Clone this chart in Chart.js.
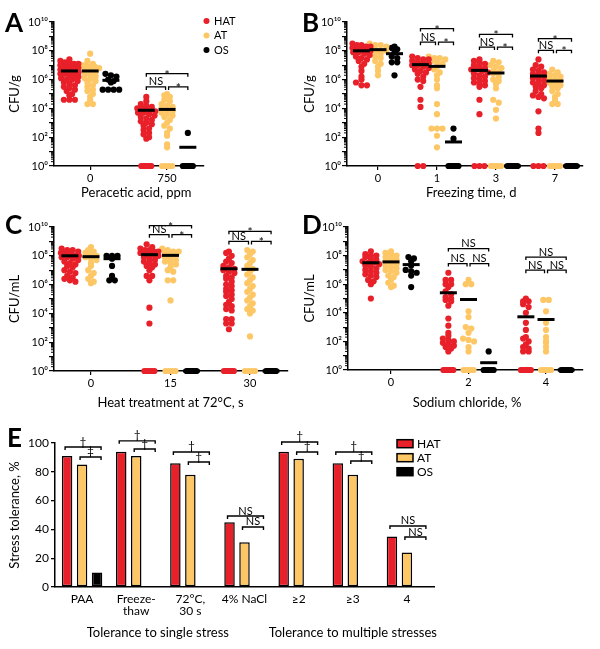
<!DOCTYPE html>
<html lang="en">
<head>
<meta charset="UTF-8">
<title>Stress tolerance of isolates</title>
<script src="https://cdn.jsdelivr.net/npm/chart.js"></script>
<style>
    body { margin: 0; background: #fff; }
    #wrap { position: relative; width: 600px; height: 649px; overflow: hidden; }
    canvas { position: absolute; }
    .tag { position: absolute; font: bold 26px Lato, sans-serif; line-height: 26px; color: #000; }
</style>
</head>
<body>
<div id="wrap">
    <canvas id="chartA" width="300" height="200" style="left:0;top:0"></canvas>
    <canvas id="chartB" width="300" height="200" style="left:300px;top:0"></canvas>
    <canvas id="chartC" width="300" height="210" style="left:0;top:200px"></canvas>
    <canvas id="chartD" width="300" height="210" style="left:300px;top:200px"></canvas>
    <canvas id="chartE" width="600" height="249" style="left:0;top:400px"></canvas>
    <div class="tag" style="left:5px;top:9px">A</div>
    <div class="tag" style="left:302px;top:9px">B</div>
    <div class="tag" style="left:5px;top:211px">C</div>
    <div class="tag" style="left:302px;top:211px">D</div>
    <div class="tag" style="left:7px;top:424px">E</div>
</div>

<script>
// all dot-plot values are log10 counts (0 = 10^0 floor)

// A: peracetic acid
const paaDoses = ['0', '750'];
const paaHAT = [
    [7.4, 7.3, 7.2, 7.2, 7.1, 7.1, 7.0, 7.0, 7.0, 6.9, 6.9, 6.8, 6.8, 6.7, 6.7, 6.6, 6.6, 6.5, 6.5, 6.4,
     6.4, 6.3, 6.2, 6.2, 6.1, 6.0, 6.0, 5.9, 5.8, 5.7, 5.6, 5.5, 5.4, 5.3, 5.2, 5.0, 4.9, 4.6, 4.6, 4.6],
    [4.8, 4.5, 4.3, 4.2, 4.1, 4.0, 4.0, 3.9, 3.9, 3.8, 3.7, 3.7, 3.6, 3.5, 3.4, 3.3, 3.2, 3.1, 3.0, 2.9,
     2.8, 2.6, 2.5, 2.3, 2.2, 2.0, 1.9, 0, 0, 0, 0, 0, 0, 0, 0]
];
const paaAT = [
    [7.8, 7.3, 7.1, 7.0, 7.0, 6.9, 6.9, 6.8, 6.7, 6.6, 6.5, 6.4, 6.3, 6.2, 6.1, 6.0, 5.9, 5.8, 5.6, 5.5,
     5.3, 5.2, 5.0, 4.8, 4.6, 4.3, 4.3],
    [5.0, 4.9, 4.8, 4.6, 4.5, 4.3, 4.2, 4.1, 4.0, 3.9, 3.8, 3.7, 3.6, 3.5, 3.4, 3.2, 3.0, 2.8, 2.6, 2.3,
     2.1, 1.5, 1.3, 0, 0, 0, 0]
];
const paaOS = [
    [6.4, 6.3, 6.2, 6.0, 5.9, 5.8, 5.3, 5.3, 5.3, 5.3],
    [2.3, 0, 0, 0, 0, 0, 0, 0, 0]
];
const paaMedians = [[6.6, 6.6, 5.95], [3.87, 3.93, 1.3]];

// B: freezing
const freezeDays = ['0', '1', '3', '7'];
const freezeHAT = [
    [8.5, 8.4, 8.4, 8.3, 8.3, 8.2, 8.2, 8.1, 8.1, 8.0, 8.0, 7.9, 7.9, 7.8, 7.7, 7.6, 7.5, 7.4, 7.3, 7.1,
     6.9, 6.6, 6.2, 6.0, 5.8, 5.6, 5.6],
    [7.6, 7.5, 7.4, 7.4, 7.3, 7.2, 7.2, 7.1, 7.0, 7.0, 6.9, 6.8, 6.7, 6.6, 6.5, 6.4, 6.2, 6.0, 5.9, 5.5,
     4.6, 4.1, 0, 0],
    [7.4, 7.3, 7.2, 7.1, 7.0, 6.9, 6.8, 6.7, 6.7, 6.6, 6.5, 6.4, 6.3, 6.2, 6.1, 6.0, 5.9, 5.8, 5.7, 5.6,
     5.5, 4.6, 3.6, 0, 0, 0],
    [7.4, 7.0, 6.9, 6.7, 6.6, 6.5, 6.4, 6.3, 6.2, 6.1, 6.0, 5.9, 5.8, 5.7, 5.6, 5.5, 5.4, 5.2, 5.0, 4.9,
     4.8, 4.7, 3.8, 2.6, 2.3, 0, 0, 0]
];
const freezeAT = [
    [8.5, 8.4, 8.4, 8.3, 8.2, 8.1, 8.0, 8.0, 7.9, 7.8, 7.6, 7.5, 7.3, 7.1, 6.9, 6.6, 6.3],
    [7.6, 7.5, 7.5, 7.4, 7.3, 7.2, 7.1, 6.9, 6.7, 6.5, 6.3, 6.0, 5.6, 5.4, 4.3, 3.6, 2.6, 2.6, 2.6, 2.1, 1.3],
    [7.3, 7.2, 7.0, 6.9, 6.8, 6.6, 6.5, 6.4, 6.2, 6.0, 5.9, 5.7, 5.4, 4.6, 4.4, 3.9, 3.3, 0, 0, 0, 0, 0],
    [6.7, 6.5, 6.4, 6.3, 6.2, 6.1, 6.0, 5.9, 5.8, 5.7, 5.6, 5.5, 5.4, 5.2, 5.0, 4.8, 4.6, 4.3, 4.3,
     0, 0, 0, 0, 0]
];
const freezeOS = [
    [8.3, 8.2, 8.1, 7.9, 7.6, 7.5, 7.2, 7.2, 6.3],
    [2.6, 1.9, 0, 0, 0, 0, 0, 0, 0, 0],
    [0, 0, 0, 0, 0, 0, 0, 0],
    [0, 0, 0, 0, 0, 0, 0, 0]
];
const freezeMedians = [[8.0, 8.08, 7.8], [7.04, 6.92, 1.67], [6.64, 6.46, 0], [6.25, 5.9, 0]];

// C: heat at 72 C
const heatSeconds = ['0', '15', '30'];
const heatHAT = [
    [8.5, 8.4, 8.4, 8.3, 8.2, 8.2, 8.1, 8.1, 8.0, 8.0, 7.9, 7.9, 7.8, 7.7, 7.6, 7.5, 7.4, 7.3, 7.2, 7.0,
     6.9, 6.8, 6.6, 6.5, 6.4, 6.3, 6.2],
    [8.8, 8.6, 8.5, 8.4, 8.4, 8.3, 8.3, 8.2, 8.2, 8.1, 8.1, 8.0, 8.0, 7.9, 7.8, 7.7, 7.6, 7.5, 7.4, 7.3,
     7.2, 7.0, 6.6, 6.6, 6.3, 4.4, 3.3, 0, 0, 0, 0, 0],
    [8.3, 8.2, 8.0, 7.8, 7.6, 7.5, 7.3, 7.2, 7.1, 7.0, 6.9, 6.8, 6.6, 6.5, 6.4, 6.2, 6.0, 5.9, 5.7, 5.6,
     5.5, 5.3, 5.2, 5.0, 4.8, 4.6, 4.5, 4.3, 4.2, 3.6, 3.6, 3.3, 3.3, 2.9, 0, 0, 0, 0, 0, 0]
];
const heatAT = [
    [8.6, 8.4, 8.3, 8.2, 8.1, 8.0, 7.9, 7.8, 7.7, 7.5, 7.3, 7.0, 6.8, 6.6, 6.4, 6.2, 6.1],
    [8.5, 8.4, 8.3, 8.3, 8.2, 8.1, 8.0, 7.9, 7.8, 7.7, 7.6, 7.5, 7.4, 7.2, 7.0, 6.9, 6.3, 6.3, 4.9,
     0, 0, 0, 0],
    [8.4, 8.3, 8.1, 7.9, 7.7, 7.5, 7.3, 7.1, 6.9, 6.7, 6.5, 6.3, 6.1, 5.9, 5.7, 5.5, 5.3, 5.1, 4.9, 4.7,
     4.5, 4.3, 4.2, 4.0, 2.4, 0, 0, 0, 0]
];
const heatOS = [
    [8.0, 8.0, 8.0, 7.8, 7.3, 6.6, 6.3, 6.3],
    [0, 0, 0, 0, 0, 0, 0, 0, 0],
    [0, 0, 0, 0, 0, 0, 0, 0, 0]
];
const heatMedians = [[8.0, 7.94, 7.8], [8.08, 8.03, 0], [7.1, 7.06, 0]];

// D: sodium chloride
const saltPercent = ['0', '2', '4'];
const saltHAT = [
    [8.3, 8.1, 8.0, 8.0, 7.9, 7.8, 7.7, 7.6, 7.5, 7.5, 7.4, 7.3, 7.2, 7.1, 7.0, 6.9, 6.8, 6.7, 6.6, 6.5,
     6.3, 6.2, 6.0, 5.0],
    [6.8, 6.3, 6.3, 6.0, 6.0, 5.8, 5.5, 5.3, 5.1, 5.0, 4.9, 4.8, 4.5, 3.6, 3.1, 2.6, 2.4, 2.2, 2.1, 2.0,
     1.9, 1.8, 1.7, 1.6, 1.5, 1.3, 0, 0, 0, 0, 0, 0, 0],
    [5.0, 4.8, 4.8, 4.6, 4.4, 4.0, 3.3, 2.8, 2.3, 2.2, 2.0, 1.8, 1.6, 1.5, 1.3, 1.3, 0, 0, 0, 0, 0, 0, 0]
];
const saltAT = [
    [8.3, 8.2, 8.1, 8.0, 7.9, 7.8, 7.7, 7.6, 7.5, 7.4, 7.3, 7.2, 7.1, 7.0, 6.9, 6.8, 6.6, 6.5, 6.3, 6.1,
     5.9, 5.8],
    [6.3, 6.0, 6.0, 4.1, 3.7, 3.0, 2.9, 2.6, 2.2, 2.1, 2.0, 1.6, 1.3, 0, 0, 0, 0, 0],
    [4.9, 4.9, 4.1, 3.3, 2.8, 2.3, 2.0, 1.9, 1.6, 1.3, 0, 0, 0, 0, 0]
];
const saltOS = [
    [7.9, 7.8, 7.6, 7.3, 7.0, 6.9, 6.8, 6.6, 5.8],
    [1.3, 0, 0, 0, 0, 0, 0, 0],
    [0, 0, 0, 0, 0, 0, 0, 0]
];
const saltMedians = [[7.5, 7.56, 7.37], [5.4, 4.93, 0.51], [3.72, 3.53, 0]];

// E: % of isolates tolerating each stress
const stressLabels = [['PAA'], ['Freeze-', 'thaw'], ['72°C,', '30 s'], ['4% NaCl'], ['≥2'], ['≥3'], ['4']];
const toleranceHAT = [91, 94, 86, 45, 94, 86, 35];
const toleranceAT = [85, 91, 78, 31, 89, 78, 24];
const toleranceOS = [10, null, null, null, null, null, null];

const SERIES = [
    { label: 'HAT', color: '#E8202A' },
    { label: 'AT', color: '#FDC766' },
    { label: 'OS', color: '#000000' }
];

const FONT = 'Lato, "DejaVu Sans", sans-serif';
Chart.defaults.font.family = FONT;
Chart.defaults.color = '#000';
Chart.defaults.animation = false;

const SUP = '⁰¹²³⁴⁵⁶⁷⁸⁹';
function sup(n) {
    return String(n).split('').map(d => SUP[+d]).join('');
}

// spread points of one group sideways (simple beeswarm)
function swarm(vals, center, pxPerUnit) {
    const rows = {};
    vals.forEach(v => {
        const k = Math.round(v / 0.3);
        (rows[k] = rows[k] || []).push(v);
    });
    const pts = [];
    Object.values(rows).forEach(row => {
        const n = row.length;
        const maxW = row[0] === 0 ? 10 : 18;
        const step = n > 1 ? Math.min(5.5, maxW / (n - 1)) : 0;
        row.forEach((v, k) => pts.push({ x: center + (k - (n - 1) / 2) * step / pxPerUnit, y: v }));
    });
    return pts;
}

function drawBracket(ctx, x1, x2, py, label) {
    ctx.beginPath();
    ctx.moveTo(x1, py + 3);
    ctx.lineTo(x1, py);
    ctx.lineTo(x2, py);
    ctx.lineTo(x2, py + 3);
    ctx.stroke();
    ctx.font = (label === 'NS' ? '11px ' : '12px ') + FONT;
    ctx.textAlign = 'center';
    ctx.textBaseline = 'alphabetic';
    ctx.fillText(label, (x1 + x2) / 2, label === '*' ? py + 5 : py - 1.5);
}

const dotExtras = {
    id: 'dotExtras',
    afterDraw(chart, args, opts) {
        const ctx = chart.ctx;
        const xs = chart.scales.x, ys = chart.scales.y;
        ctx.save();
        ctx.strokeStyle = '#000';
        ctx.fillStyle = '#000';
        // minor log ticks
        ctx.lineWidth = 1;
        for (let d = 0; d < 10; d++) {
            for (let k = 2; k < 10; k++) {
                const py = ys.getPixelForValue(d + Math.log10(k));
                ctx.beginPath();
                ctx.moveTo(ys.right - 3, py);
                ctx.lineTo(ys.right, py);
                ctx.stroke();
            }
        }
        // significance brackets
        ctx.lineWidth = 1.3;
        opts.brackets.forEach(([ci, a, b, level, label]) => {
            let x1 = xs.getPixelForValue(ci + (a - 1) * opts.off);
            let x2 = xs.getPixelForValue(ci + (b - 1) * opts.off);
            if (b === 1) x2 -= 1.5;
            if (a === 1) x1 += 1.5;
            drawBracket(ctx, x1, x2, ys.getPixelForValue(level), label);
        });
        // x axis title
        ctx.font = '13px ' + FONT;
        ctx.textAlign = 'center';
        ctx.textBaseline = 'middle';
        ctx.fillText(opts.xTitle, xs.getPixelForValue(opts.titleAt), chart.height - 7.5);
        // legend
        if (opts.legend) {
            ctx.font = '11px ' + FONT;
            ctx.textAlign = 'left';
            SERIES.forEach((s, i) => {
                const ly = chart.chartArea.top - 1 + i * 14.5;
                ctx.fillStyle = s.color;
                ctx.beginPath();
                ctx.arc(chart.chartArea.right + 2.5, ly, 3, 0, Math.PI * 2);
                ctx.fill();
                ctx.fillStyle = '#000';
                ctx.fillText(s.label, chart.chartArea.right + 10, ly);
            });
        }
        ctx.restore();
    }
};

function dotPanel(id, p) {
    const pxPerUnit = (p.area.right - p.area.left) / (p.xMax - p.xMin);
    const medianPts = [];
    p.medians.forEach((m, ci) => m.forEach((v, si) => medianPts.push({ x: ci + (si - 1) * p.off, y: v })));
    const datasets = [{
        data: medianPts,
        pointStyle: 'line',
        pointRadius: 8.5,
        pointHoverRadius: 8.5,
        pointBorderWidth: 3,
        pointBorderColor: '#000',
        borderColor: '#000',
        clip: false
    }];
    p.series.forEach((groups, si) => {
        const pts = [];
        groups.forEach((vals, ci) => pts.push(...swarm(vals, ci + (si - 1) * p.off, pxPerUnit)));
        datasets.push({
            label: SERIES[si].label,
            data: pts,
            pointRadius: 3.1,
            pointHoverRadius: 3.1,
            pointBorderWidth: 0,
            backgroundColor: SERIES[si].color,
            borderColor: SERIES[si].color,
            clip: false
        });
    });
    const canvas = document.getElementById(id);
    const h = canvas.height;
    const w = canvas.width;
    return new Chart(canvas, {
        type: 'scatter',
        data: { datasets: datasets },
        options: {
            responsive: false,
            events: [],
            layout: { padding: { left: 0, top: p.area.top, right: w - p.area.right, bottom: 0 } },
            plugins: {
                legend: { display: false },
                tooltip: { enabled: false },
                dotExtras: { brackets: p.brackets, off: p.off, legend: p.legend, xTitle: p.xTitle, titleAt: p.titleAt }
            },
            scales: {
                x: {
                    type: 'linear',
                    min: p.xMin,
                    max: p.xMax,
                    afterBuildTicks: s => { s.ticks = p.cats.map((c, i) => ({ value: i })); },
                    afterFit: s => { s.height = h - p.area.bottom; },
                    ticks: { callback: v => p.cats[v], autoSkip: false, maxRotation: 0, padding: 1.5, font: { size: 11 } },
                    grid: { drawOnChartArea: false, color: '#000', tickLength: 4, lineWidth: 1.2 },
                    border: { color: '#000', width: 1.5 }
                },
                y: {
                    min: 0,
                    max: 10,
                    afterFit: s => { s.width = p.area.left; },
                    ticks: {
                        stepSize: 1,
                        autoSkip: false,
                        padding: 1,
                        font: { size: 11 },
                        callback: v => (v % 2 === 0 ? '10' + sup(v) : '')
                    },
                    grid: { drawOnChartArea: false, color: '#000', tickLength: 5, lineWidth: 1.2 },
                    border: { color: '#000', width: 1.5 },
                    title: { display: true, text: p.yTitle, font: { size: 13, lineHeight: 1.2 }, padding: { top: p.yTitlePad, bottom: 0 } }
                }
            }
        },
        plugins: [dotExtras]
    });
}

dotPanel('chartA', {
    cats: paaDoses, series: [paaHAT, paaAT, paaOS], medians: paaMedians,
    area: { left: 54, top: 22, right: 204, bottom: 166 }, xMin: -0.47, xMax: 1.48, off: 0.27,
    xTitle: 'Peracetic acid, ppm', titleAt: 0.6, yTitle: 'CFU/g', yTitlePad: 7, legend: true,
    brackets: [[1, 0, 2, 6.41, '*'], [1, 0, 1, 5.49, 'NS'], [1, 1, 2, 5.49, '*']]
});

dotPanel('chartB', {
    cats: freezeDays, series: [freezeHAT, freezeAT, freezeOS], medians: freezeMedians,
    area: { left: 47, top: 22, right: 283, bottom: 166 }, xMin: -0.525, xMax: 3.475, off: 0.28,
    xTitle: 'Freezing time, d', titleAt: 1.58, yTitle: 'CFU/g', yTitlePad: 2,
    brackets: [
        [1, 0, 2, 9.54, '*'], [1, 0, 1, 8.6, 'NS'], [1, 1, 2, 8.6, '*'],
        [2, 0, 2, 9.14, '*'], [2, 0, 1, 8.26, 'NS'], [2, 1, 2, 8.26, '*'],
        [3, 0, 2, 8.84, '*'], [3, 0, 1, 8.03, 'NS'], [3, 1, 2, 8.03, '*']
    ]
});

dotPanel('chartC', {
    cats: heatSeconds, series: [heatHAT, heatAT, heatOS], medians: heatMedians,
    area: { left: 54, top: 27, right: 288, bottom: 171 }, xMin: -0.465, xMax: 2.478, off: 0.265,
    xTitle: 'Heat treatment at 72°C, s', titleAt: 1.0, yTitle: 'CFU/mL', yTitlePad: 7,
    brackets: [
        [1, 0, 2, 10.1, '*'], [1, 0, 1, 9.47, 'NS'], [1, 1, 2, 9.47, '*'],
        [2, 0, 2, 9.7, '*'], [2, 0, 1, 9.0, 'NS'], [2, 1, 2, 9.0, '*']
    ]
});

dotPanel('chartD', {
    cats: saltPercent, series: [saltHAT, saltAT, saltOS], medians: saltMedians,
    area: { left: 48, top: 27, right: 283, bottom: 170 }, xMin: -0.555, xMax: 2.477, off: 0.26,
    xTitle: 'Sodium chloride, %', titleAt: 0.98, yTitle: 'CFU/mL', yTitlePad: 2,
    brackets: [
        [1, 0, 2, 8.49, 'NS'], [1, 0, 1, 7.44, 'NS'], [1, 1, 2, 7.44, 'NS'],
        [2, 0, 2, 7.9, 'NS'], [2, 0, 1, 6.98, 'NS'], [2, 1, 2, 6.98, 'NS']
    ]
});

// panel E
const eBrackets = [
    [0, 0, 2, 97.2, '†'], [0, 1, 2, 90.3, '‡'],
    [1, 0, 2, 101.5, '†'], [1, 1, 2, 95.8, '†'],
    [2, 0, 2, 93.8, '†'], [2, 1, 2, 86.8, '†'],
    [3, 0, 2, 49.3, 'NS'], [3, 1, 2, 41.7, 'NS'],
    [4, 0, 2, 100.7, '†'], [4, 1, 2, 93.8, '†'],
    [5, 0, 2, 93.8, '†'], [5, 1, 2, 87.5, '†'],
    [6, 0, 2, 42.4, 'NS'], [6, 1, 2, 34.7, 'NS']
];
const eGroupTitles = [
    { text: 'Tolerance to single stress', at: 1.4 },
    { text: 'Tolerance to multiple stresses', at: 5.0 }
];
const CAT_PCT = 0.83;

const barExtras = {
    id: 'barExtras',
    afterDraw(chart) {
        const ctx = chart.ctx;
        const xs = chart.scales.x, ys = chart.scales.y;
        const slot = (xs.width / stressLabels.length) * CAT_PCT / 3;
        ctx.save();
        ctx.strokeStyle = '#000';
        ctx.fillStyle = '#000';
        ctx.lineWidth = 1.4;
        eBrackets.forEach(([ci, a, b, level, label]) => {
            const c = xs.getPixelForValue(ci);
            drawBracket(ctx, c + (a - 1) * slot - 2, c + (b - 1) * slot + 4, ys.getPixelForValue(level), label);
        });
        ctx.font = '13px ' + FONT;
        ctx.textAlign = 'center';
        ctx.textBaseline = 'middle';
        eGroupTitles.forEach(g => ctx.fillText(g.text, xs.getPixelForValue(g.at), 233));
        // legend
        ctx.font = '12px ' + FONT;
        ctx.textAlign = 'left';
        ctx.lineWidth = 1.5;
        SERIES.forEach((s, i) => {
            const ly = 43.7 + i * 14;
            ctx.fillStyle = s.color;
            ctx.fillRect(397, ly - 4, 16, 8);
            ctx.strokeRect(397, ly - 4, 16, 8);
            ctx.fillStyle = '#000';
            ctx.fillText(s.label, 417, ly);
        });
        ctx.restore();
    }
};

new Chart(document.getElementById('chartE'), {
    type: 'bar',
    data: {
        labels: stressLabels,
        datasets: [toleranceHAT, toleranceAT, toleranceOS].map((vals, i) => ({
            label: SERIES[i].label,
            data: vals,
            backgroundColor: SERIES[i].color,
            borderColor: '#000',
            borderWidth: 1.5,
            borderSkipped: false,
            categoryPercentage: CAT_PCT,
            barPercentage: 0.7
        }))
    },
    options: {
        responsive: false,
        events: [],
        layout: { padding: { left: 0, top: 43, right: 166, bottom: 0 } },
        plugins: { legend: { display: false }, tooltip: { enabled: false } },
        scales: {
            x: {
                afterFit: s => { s.height = 62; },
                grid: { drawOnChartArea: false, drawTicks: false },
                border: { color: '#000', width: 1.5 },
                ticks: { autoSkip: false, maxRotation: 0, padding: 6, font: { size: 12, lineHeight: 1.0 } }
            },
            y: {
                min: 0,
                max: 100,
                afterFit: s => { s.width = 55; },
                ticks: { stepSize: 20, padding: 2, font: { size: 12 } },
                grid: { drawOnChartArea: false, color: '#000', tickLength: 4, lineWidth: 1.3 },
                border: { color: '#000', width: 1.5 },
                title: { display: true, text: 'Stress tolerance, %', font: { size: 13, lineHeight: 1.2 }, padding: { top: 7, bottom: 0 } }
            }
        }
    },
    plugins: [barExtras]
});
</script>
</body>
</html>
